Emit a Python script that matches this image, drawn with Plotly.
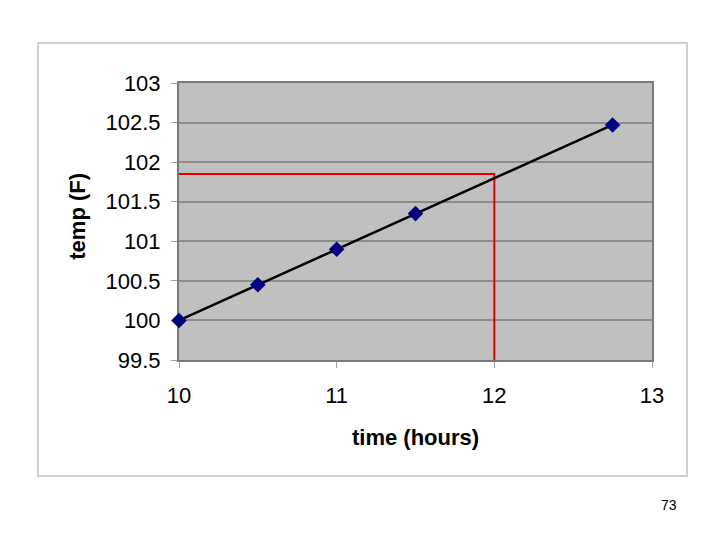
import plotly.graph_objects as go

time_hours = [10, 10.5, 11, 11.5, 12.75]
temp_f = [100.0, 100.45, 100.9, 101.35, 102.47]
guide_x = [10, 12, 12]
guide_y = [101.85, 101.85, 99.5]
x_ticks = [10, 11, 12, 13]
y_ticks = [99.5, 100, 100.5, 101, 101.5, 102, 102.5, 103]
page_label = "73"

font_family = "Liberation Sans, Arial, sans-serif"

fig = go.Figure()
fig.add_trace(go.Scatter(
    x=guide_x, y=guide_y, mode="lines",
    line=dict(color="#e00000", width=2), hoverinfo="skip", showlegend=False))
fig.add_trace(go.Scatter(
    x=time_hours, y=temp_f, mode="lines+markers",
    line=dict(color="black", width=2.5),
    marker=dict(symbol="diamond", size=12, color="#000080"),
    cliponaxis=False, showlegend=False))

fig.update_layout(
    width=720, height=540,
    margin=dict(l=171, r=76, t=75, b=188),
    paper_bgcolor="white", plot_bgcolor="#c0c0c0",
    font=dict(family=font_family, color="black"),
    xaxis=dict(range=[10, 13], tickvals=x_ticks, ticktext=[str(v) for v in x_ticks],
               showgrid=False, zeroline=False, showline=True, linecolor="#7a7a7a",
               linewidth=2, mirror=True, ticks="outside", ticklen=6, tickcolor="#a0a0a0",
               tickfont=dict(size=22), ticklabelstandoff=9, layer="below traces"),
    yaxis=dict(range=[99.5, 103], tickvals=y_ticks,
               ticktext=[("%g" % v) for v in y_ticks],
               showgrid=True, gridcolor="#8c8c8c", gridwidth=1.5, zeroline=False,
               showline=True, linecolor="#7a7a7a", linewidth=2, mirror=True,
               ticks="outside", ticklen=6, tickcolor="#a0a0a0",
               tickfont=dict(size=22), ticklabelstandoff=6, layer="below traces"),
    shapes=[dict(type="rect", xref="paper", yref="paper",
                 x0=-0.298, x1=1.074, y0=-0.419, y1=1.144,
                 line=dict(color="#d0d0d0", width=2), layer="below")],
    annotations=[
        dict(text="<b>time (hours)</b>", xref="paper", yref="paper", x=0.5, y=-0.278,
             showarrow=False, font=dict(size=22), xanchor="center", yanchor="middle"),
        dict(text="<b>temp (F)</b>", xref="paper", yref="paper", x=-0.214, y=0.52,
             showarrow=False, font=dict(size=22), textangle=-90,
             xanchor="center", yanchor="middle"),
        dict(text=page_label, xref="paper", yref="paper", x=1.035, y=-0.525,
             showarrow=False, font=dict(size=14), xanchor="center", yanchor="middle"),
    ],
)

fig.write_html("out.html")
